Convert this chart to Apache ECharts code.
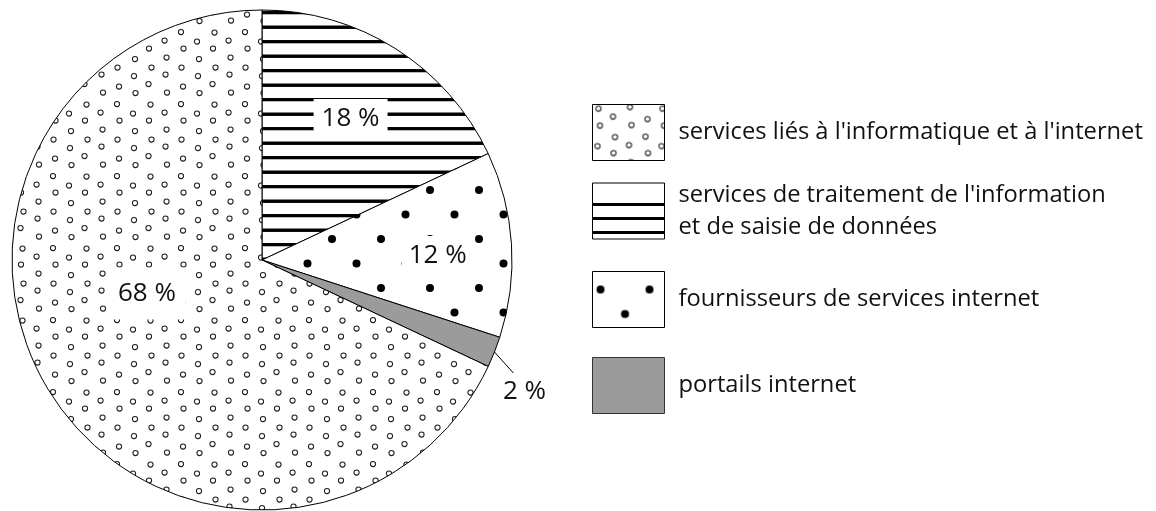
<!DOCTYPE html>
<html>
<head>
<meta charset="utf-8">
<script src="https://cdn.jsdelivr.net/npm/echarts@6/dist/echarts.min.js"></script>
<style>
  html, body { margin: 0; padding: 0; background: #fff; }
  #chart { width: 1156px; height: 511px; }
</style>
</head>
<body>
<div id="chart"></div>
<script>
// Activity shares (%) — pie order, clockwise from 12 o'clock
const categories = [
  "services de traitement de l'information\net de saisie de données",
  'fournisseurs de services internet',
  'portails internet',
  "services liés à l'informatique et à l'internet"
];
const shares = [18, 12, 2, 68];
// Legend order
const legendOrder = [3, 0, 1, 2];

const FONT = '"Open Sans", "Noto Sans", sans-serif';

// ---- fill patterns -------------------------------------------------------
function tile(w, h, draw) {
  const c = document.createElement('canvas');
  c.width = w; c.height = h;
  const ctx = c.getContext('2d');
  ctx.fillStyle = '#fff';
  ctx.fillRect(0, 0, w, h);
  // draw each motif with wrap-around copies so the tile repeats seamlessly
  const wrap = (fn) => {
    for (const ox of [-w, 0, w]) for (const oy of [-h, 0, h]) fn(ctx, ox, oy);
  };
  draw(ctx, wrap, w, h);
  return { image: c, repeat: 'repeat' };
}

// small open circles on a slightly irregular staggered grid
function circlesPattern() {
  const jit = [[0, 0], [1.5, -1], [-1, 1.5], [1, 1], [-1.5, -1], [0.5, 1.5], [-1, -0.5], [1.5, 0.5],
               [-0.5, -1.5], [1, -1.5], [-1.5, 0.5], [0.5, -0.5], [1, 1.5], [-1, 1], [1.5, -0.5], [-0.5, 0.5]];
  return tile(64, 72, (ctx, wrap) => {
    ctx.strokeStyle = '#1e1e1e';
    ctx.lineWidth = 1.05;
    let k = 0;
    for (let i = 0; i < 4; i++) {
      for (let j = 0; j < 4; j++) {
        const x = 6 + i * 16 + jit[k][0];
        const y = 4 + j * 18 + (i % 2) * 9 + jit[k][1];
        k++;
        wrap((c, ox, oy) => {
          c.beginPath();
          c.arc(x + ox, y + oy, 2.6, 0, Math.PI * 2);
          c.stroke();
        });
      }
    }
  });
}

// horizontal bars at the given centre offsets within a tile of height h
function stripesPattern(h, centres, thick) {
  return tile(8, h, (ctx, wrap) => {
    ctx.fillStyle = '#000';
    for (const cy of centres) {
      wrap((c, ox, oy) => c.fillRect(0, cy - thick / 2 + oy, 8, thick));
    }
  });
}

// filled black dots on a staggered grid
function dotsPattern(ax, ay) {
  return tile(49, 49, (ctx, wrap) => {
    ctx.fillStyle = '#000';
    for (const [x, y] of [[ax, ay], [ax + 24.5, ay + 24.5]]) {
      wrap((c, ox, oy) => {
        c.beginPath();
        c.arc(((x % 49) + 49) % 49 + ox, ((y % 49) + 49) % 49 + oy, 4, 0, Math.PI * 2);
        c.fill();
      });
    }
  });
}

const circles = circlesPattern();
const fills = [
  stripesPattern(29, [12.7, 27.2], 2.8),
  dotsPattern(430 % 49, 190 % 49),
  '#9b9b9b',
  circles
];
// legend swatches are drawn in the legend's own coordinates
const legendFills = [
  stripesPattern(64, [19 + 6.5 - 4, 33 + 6.5 - 4, 47 + 6.5 - 4], 2.8),
  dotsPattern(8, 18),
  '#9b9b9b',
  circles
];

// per-slice label styling
const labelStyles = [
  { position: 'inside', offset: [20, -33], padding: [7, 8] },
  { position: 'inside', offset: [48, 4], padding: [7, 7] },
  { position: 'outside' },
  { position: 'inside', offset: [-7, -35], padding: [13, 10] }
];

const seriesData = categories.map((name, i) => ({
  name,
  value: shares[i],
  itemStyle: { color: fills[i] },
  label: Object.assign({
    backgroundColor: labelStyles[i].position === 'inside' ? '#fff' : 'transparent'
  }, labelStyles[i]),
  labelLine: { show: labelStyles[i].position === 'outside' }
}));

const legendTops = [104, 176.5, 271, 357];
const legends = legendOrder.map((idx, k) => ({
  show: true,
  left: 592,
  top: legendTops[k],
  orient: 'vertical',
  padding: 0,
  itemWidth: 72,
  itemHeight: 56,
  icon: 'rect',
  selectedMode: false,
  data: [{
    name: categories[idx],
    itemStyle: {
      color: legendFills[idx],
      borderColor: idx === 2 ? '#333' : '#000',
      borderWidth: 1
    }
  }],
  textStyle: {
    fontFamily: FONT,
    fontSize: 23.7,
    color: '#111',
    lineHeight: 32,
    padding: [5, 0, 0, 9]
  }
}));

const chart = echarts.init(document.getElementById('chart'), null, { renderer: 'canvas' });
chart.setOption({
  animation: false,
  backgroundColor: '#fff',
  legend: legends,
  series: [{
    type: 'pie',
    center: [262, 260],
    radius: 250,
    startAngle: 90,
    clockwise: true,
    avoidLabelOverlap: false,
    emphasis: { disabled: true },
    itemStyle: { borderColor: '#000', borderWidth: 1 },
    label: {
      formatter: '{c} %',
      fontFamily: FONT,
      fontSize: 26,
      color: '#111',
      lineHeight: 26
    },
    labelLine: { lineStyle: { color: '#000', width: 1 } },
    labelLayout: function (p) {
      if (p.dataIndex !== 2 || !p.labelLinePoints) return {};
      const a = p.labelLinePoints[0];
      const b = [a[0] + 19, a[1] + 21];
      return {
        x: a[0] + 30,
        y: a[1] + 40,
        align: 'center',
        verticalAlign: 'middle',
        labelLinePoints: [a, b, b]
      };
    },
    data: seriesData
  }]
});
</script>
</body>
</html>
